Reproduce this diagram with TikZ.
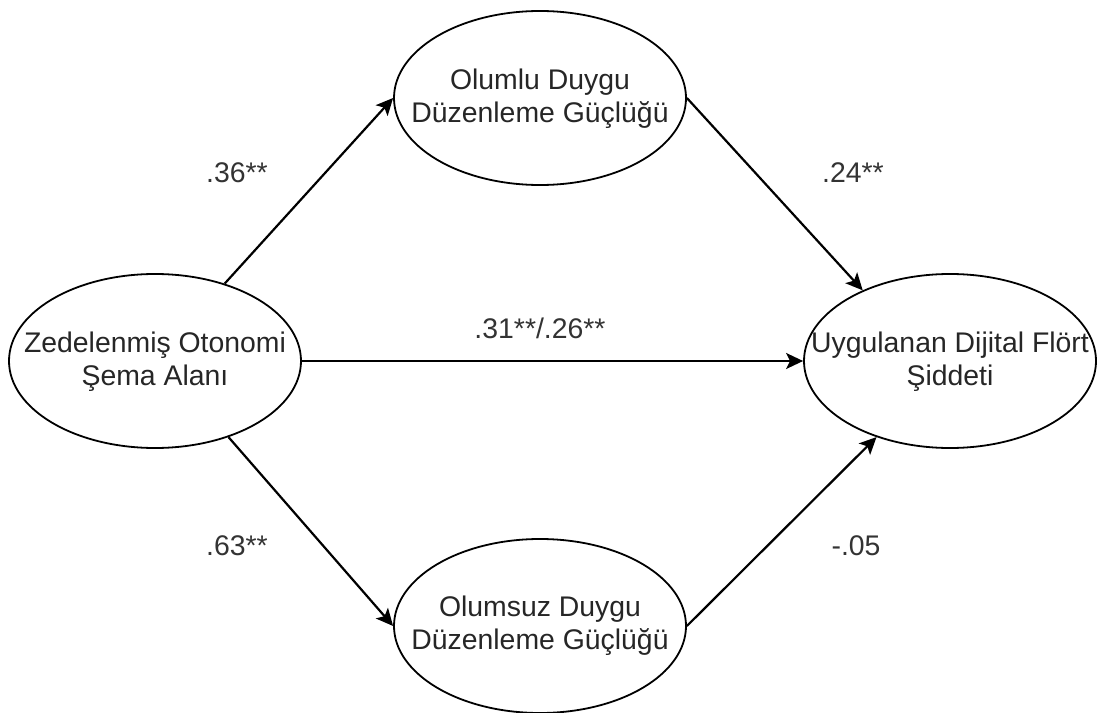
\documentclass[tikz,border=0pt]{standalone}
\usepackage{fontspec}
\setmainfont{Liberation Sans}
\usetikzlibrary{arrows.meta,shapes.geometric}
\tikzset{
  latent/.style={ellipse, draw=black, line width=1.8bp, minimum width=292bp, minimum height=174bp, inner sep=0pt},
  nodetext/.style={align=center, text=black!85, font=\fontsize{28.5}{33}\selectfont, inner sep=0pt},
  coef/.style={text=black!80, font=\fontsize{28.5}{33}\selectfont, inner sep=0pt},
  path/.style={draw=black, line width=2.2bp, -{Stealth[length=17bp,width=16bp,inset=4bp]}}
}
\begin{document}
\begin{tikzpicture}[x=1bp,y=-1bp]
\useasboundingbox (0,0) rectangle (1097,713);
\node[latent] (L) at (155,361) {};
\node[latent] (T) at (540,98) {};
\node[latent] (B) at (540,626) {};
\node[latent] (R) at (950,361) {};
\node[nodetext] (Lt) at (155,362) {Zedelenmiş Otonomi\\Şema Alanı};
\node[nodetext] (Tt) at (540,99) {Olumlu Duygu\\Düzenleme Güçlüğü};
\node[nodetext] (Bt) at (540,626) {Olumsuz Duygu\\Düzenleme Güçlüğü};
\node[nodetext] (Rt) at (950,362) {Uygulanan Dijital Flört\\Şiddeti};
\draw[path] (L.48) -- (T.west);
\draw[path] (L.east) -- (R.west);
\draw[path] (L.-46) -- (B.west);
\draw[path] (T.east) -- (R.141);
\draw[path] (B.east) -- (R.-134);
\node[coef] (c1) at (237,173) {.36**};
\node[coef] (c2) at (853,173) {.24**};
\node[coef] (c3) at (540,328) {.31**/.26**};
\node[coef] (c4) at (237,546) {.63**};
\node[coef] (c5) at (856,546) {-.05};
\end{tikzpicture}
\end{document}
